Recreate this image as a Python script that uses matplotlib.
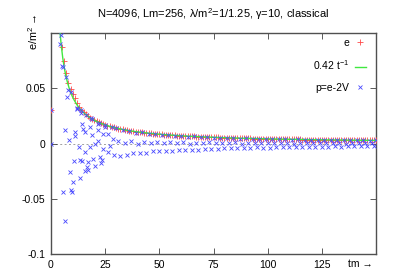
import numpy as np
import matplotlib
matplotlib.use("Agg")
import matplotlib.pyplot as plt

plt.rcParams['font.family'] = ['Liberation Sans', 'DejaVu Sans']
plt.rcParams['mathtext.fontset'] = 'custom'
plt.rcParams['mathtext.rm'] = 'Liberation Sans'
plt.rcParams['mathtext.it'] = 'Liberation Sans'

title = "N=4096, Lm=256, \u03bb/m$^2$=1/1.25, \u03b3=10, classical"

# e/m^2 at integer times tm = 0..150
tm_e = list(range(0, 151))
e_vals = [
    0.030, 0.400, 0.210, 0.140, 0.106, 0.087, 0.075, 0.064, 0.055, 0.049,
    0.045, 0.041, 0.037, 0.033, 0.0305, 0.0282, 0.0264, 0.0248, 0.0234, 0.0222,
    0.0211, 0.0201, 0.0192, 0.0183, 0.0175, 0.0168, 0.0162, 0.0156, 0.0150, 0.0145,
    0.0140, 0.0135, 0.0131, 0.0127, 0.0124, 0.0120, 0.0117, 0.0114, 0.0111, 0.0108,
    0.0105, 0.0102, 0.0100, 0.0098, 0.0095, 0.0093, 0.0091, 0.0089, 0.0088, 0.0086,
    0.0084, 0.0082, 0.0081, 0.0079, 0.0078, 0.0076, 0.0075, 0.0074, 0.0072, 0.0071,
    0.0070, 0.0069, 0.0068, 0.0067, 0.0066, 0.0065, 0.0064, 0.0063, 0.0062, 0.0061,
    0.0060, 0.0059, 0.0058, 0.0058, 0.0057, 0.0056, 0.0055, 0.0055, 0.0054, 0.0053,
    0.0053, 0.0052, 0.0051, 0.0051, 0.0050, 0.0049, 0.0049, 0.0048, 0.0048, 0.0047,
    0.0047, 0.0046, 0.0046, 0.0045, 0.0045, 0.0044, 0.0044, 0.0043, 0.0043, 0.0042,
    0.0042, 0.0042, 0.0041, 0.0041, 0.0040, 0.0040, 0.0040, 0.0039, 0.0039, 0.0039,
    0.0038, 0.0038, 0.0038, 0.0037, 0.0037, 0.0037, 0.0036, 0.0036, 0.0036, 0.0035,
    0.0035, 0.0035, 0.0034, 0.0034, 0.0034, 0.0034, 0.0033, 0.0033, 0.0033, 0.0033,
    0.0032, 0.0032, 0.0032, 0.0032, 0.0031, 0.0031, 0.0031, 0.0031, 0.0030, 0.0030,
    0.0030, 0.0030, 0.0030, 0.0029, 0.0029, 0.0029, 0.0029, 0.0029, 0.0028, 0.0028,
    0.0028,
]

# fit: 0.42 t^-1
fit_coef = 0.42
fit_tmin, fit_tmax = 4.0, 150.0

# p = e - 2V
tm_p_early = [
    0, 0, 4.0, 4.5, 5.1, 5.5, 5.7, 6.3, 6.6, 7.1, 7.2, 7.8, 8.2, 8.7, 9.0, 9.4, 9.8,
    10.2, 10.6, 11.0, 11.2, 11.8, 12.1, 12.7, 13.2, 13.4, 13.7, 14.0, 14.1, 14.2,
    14.9, 15.5, 15.7, 15.7, 16.0, 16.5, 16.9, 17.1, 17.9, 18.0, 18.3, 18.7, 19.0,
    19.5, 20.3, 20.3, 21.7, 21.8, 21.8, 22.0, 22.5, 22.9, 23.4, 24.0, 24.2, 24.9,
    25.0, 26.5, 26.5, 27.2, 28.0, 28.8, 29.0,
]
p_early = [
    0.030, 0.000, 0.090, 0.098, 0.070, -0.044, 0.069, -0.070, 0.012, 0.060, 0.042,
    0.048, 0.003, -0.026, 0.047, -0.042, -0.044,
    -0.035, -0.016, 0.007, 0.010, 0.032, 0.031, -0.003, -0.015, -0.031, 0.030,
    0.028, 0.018, -0.016,
    0.013, 0.010, -0.008, -0.025, 0.026, -0.021, -0.024, -0.017, -0.003, 0.015,
    0.023, 0.008, 0.022,
    -0.014, 0.000, -0.020, 0.012, 0.002, 0.018, 0.019, -0.012, -0.018, -0.015,
    -0.005, 0.009, 0.015,
    0.017, 0.009, -0.008, -0.002, 0.015, 0.004, -0.010,
]
tm_p_late = list(range(30, 151))
p_late = [
    0.0138, 0.0020, -0.0111, 0.0121, 0.0006, -0.0108, 0.0117, 0.0023, -0.0089, 0.0097,
    0.0000, -0.0087, 0.0100, 0.0015, -0.0086, 0.0088, 0.0009, -0.0071, 0.0088, 0.0017,
    -0.0071, 0.0074, 0.0004, -0.0071, 0.0078, 0.0011, -0.0064, 0.0070, 0.0007, -0.0057,
    0.0070, 0.0014, -0.0061, 0.0060, 0.0000, -0.0055, 0.0064, 0.0009, -0.0056, 0.0058,
    0.0006, -0.0047, 0.0058, 0.0012, -0.0048, 0.0050, 0.0003, -0.0050, 0.0054, 0.0008,
    -0.0045, 0.0049, 0.0005, -0.0041, 0.0050, 0.0010, -0.0044, 0.0043, 0.0000, -0.0040,
    0.0047, 0.0007, -0.0041, 0.0043, 0.0005, -0.0035, 0.0044, 0.0009, -0.0037, 0.0038,
    0.0002, -0.0038, 0.0041, 0.0006, -0.0034, 0.0038, 0.0004, -0.0031, 0.0039, 0.0008,
    -0.0034, 0.0034, 0.0000, -0.0031, 0.0037, 0.0006, -0.0032, 0.0034, 0.0004, -0.0028,
    0.0035, 0.0007, -0.0029, 0.0031, 0.0002, -0.0031, 0.0033, 0.0005, -0.0028, 0.0031,
    0.0003, -0.0026, 0.0032, 0.0006, -0.0028, 0.0028, 0.0000, -0.0026, 0.0030, 0.0005,
    -0.0027, 0.0029, 0.0003, -0.0023, 0.0029, 0.0006, -0.0025, 0.0026, 0.0001, -0.0025,
    0.0028,
]

xticks = [0, 25, 50, 75, 100, 125]
yticks = [-0.1, -0.05, 0, 0.05]
ytick_labels = ["-0.1", "-0.05", "0", "0.05"]

W, H = 395, 276
fig = plt.figure(figsize=(W / 100, H / 100), dpi=100)
ax = fig.add_axes([51 / W, 1 - 254 / H, (376 - 51) / W, (254 - 33) / H])

ax.axhline(0, color='#a0a0a0', lw=0.7, ls=(0, (2, 2.5)), zorder=1)

red = '#ff4a4a'
green = '#40e840'
blue = '#4848ff'

ax.plot(tm_e, e_vals, ls='none', marker='+', ms=4, mew=0.6, color=red,
        label='e', zorder=3)
t_fit = np.linspace(fit_tmin, fit_tmax, 400)
ax.plot(t_fit, fit_coef / t_fit, color=green, lw=1.0, label='0.42 t$^{-1}$', zorder=4)
ax.plot(tm_p_early + tm_p_late, p_early + p_late, ls='none', marker='x', ms=3.3,
        mew=0.6, color=blue, label='p=e-2V', zorder=5)

ax.set_xlim(0, 150)
ax.set_ylim(-0.1, 0.1)
ax.set_xticks(xticks)
ax.set_xticklabels([str(v) for v in xticks])
ax.set_yticks(yticks)
ax.set_yticklabels(ytick_labels)
ax.tick_params(direction='in', length=4, width=0.6, labelsize=7.5, top=True,
               right=True, color='#404040', pad=4)
for s in ax.spines.values():
    s.set_linewidth(1.0)
    s.set_color('#505050')

fig.text(213.5 / W, 1 - 14 / H, title, ha='center', va='center', fontsize=8)
fig.text(33 / W, 1 - 32 / H, "e/m$^2$ \u2192", rotation=90, ha='center',
         va='center', fontsize=7.8)
fig.text(373 / W, 1 - 264 / H, "tm \u2192", ha='right', va='center', fontsize=7.5)

leg = ax.legend(loc='upper right', bbox_to_anchor=((366 - 51) / 325, (254 - 38) / 221),
                frameon=False, markerfirst=False, fontsize=7.5, handlelength=1.1,
                handletextpad=0.5, labelspacing=1.0, borderpad=0, borderaxespad=0,
                numpoints=1)
for t in leg.get_texts():
    t.set_ha('right')

fig.savefig('out.png', dpi=100)
